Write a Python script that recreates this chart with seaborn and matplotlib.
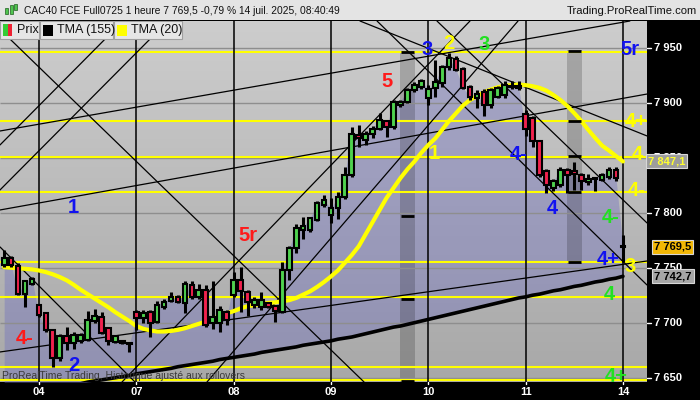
import numpy as np
import pandas as pd
import matplotlib
matplotlib.use('Agg')
import matplotlib.pyplot as plt
from matplotlib.patches import Rectangle
from matplotlib.colors import LinearSegmentedColormap
import seaborn as sns

sns.set_style('white')
plt.rcParams['font.family'] = ['Liberation Sans', 'DejaVu Sans']

# hourly candles, last bars of 03 july -> first bar of 14 july
opens = [7753, 7759, 7752, 7727, 7736,
         7716.5, 7709, 7694, 7668, 7688, 7682, 7684, 7685, 7702, 7705.5, 7695.5, 7683, 7683.5, 7682,
         7710.5, 7704.5, 7710.5, 7701.5, 7715, 7720.5, 7724, 7718, 7735, 7724, 7730, 7700, 7700, 7710.5,
         7726, 7739.5, 7728, 7716.5, 7715, 7718, 7716, 7710.5, 7748.5, 7768, 7785, 7785, 7794, 7807.5,
         7798.5, 7804.5, 7815, 7835, 7871, 7866.5, 7872.5, 7877, 7883.5, 7878.5, 7898.5, 7901.5, 7912, 7915,
         7905, 7913.5, 7918, 7933, 7940, 7931, 7915, 7905, 7910.5, 7898.5, 7906, 7907.5, 7916, 7916,
         7890, 7886.5, 7865.5, 7838, 7823, 7826, 7839.5, 7838, 7835, 7828, 7831, 7830.5, 7833, 7839.5,
         7770.5]
highs = [7766.5, 7761, 7755, 7739, 7742,
         7717.5, 7710, 7695, 7690, 7697, 7692.5, 7691, 7711, 7713, 7710, 7697, 7689, 7684, 7683,
         7712, 7712, 7712.5, 7720, 7722, 7728, 7726, 7738, 7738, 7736, 7735, 7738, 7716, 7712,
         7747, 7751.5, 7730, 7724, 7728.5, 7719, 7717, 7756, 7770, 7790, 7797, 7797, 7811, 7816.5,
         7813.5, 7819.5, 7842.5, 7878.5, 7880, 7875, 7879, 7891, 7885, 7903, 7903, 7913.5, 7919, 7922,
         7917, 7939, 7935, 7946, 7943, 7933, 7917, 7912, 7913, 7914, 7916, 7920, 7920, 7920,
         7894, 7888, 7867, 7840, 7831, 7842, 7841, 7846.5, 7837, 7836, 7833, 7836.5, 7842.5, 7842,
         7780]
lows = [7751.5, 7751, 7726, 7715, 7735,
        7706, 7692, 7660.5, 7666, 7676, 7677, 7682, 7684, 7700, 7690, 7680, 7682, 7681, 7673.5,
        7694, 7700, 7687.5, 7700, 7713, 7719, 7718, 7709, 7722, 7722, 7697, 7695, 7692, 7698.5,
        7724, 7710, 7707, 7714, 7712, 7714, 7701, 7709, 7739, 7763.5, 7777, 7783, 7793, 7806,
        7791, 7795, 7813, 7833, 7860.5, 7862, 7868, 7876, 7869.5, 7877, 7897, 7900, 7910, 7913,
        7898, 7906, 7915, 7930, 7929, 7913, 7903, 7896, 7888, 7896, 7905, 7905, 7913, 7912,
        7870, 7860, 7833, 7818.5, 7820, 7824, 7818.5, 7821.5, 7821.5, 7826, 7820, 7829, 7831, 7829,
        7756]
closes = [7759, 7753, 7727, 7738, 7740.5,
          7707.5, 7694, 7668, 7688, 7682, 7689.5, 7689, 7703, 7706.5, 7691, 7683.5, 7688, 7682, 7681,
          7704.5, 7709.5, 7700, 7716.5, 7719.5, 7724, 7719.5, 7736, 7724, 7730, 7698.5, 7706, 7712, 7703,
          7739.5, 7729, 7719, 7721, 7721, 7715, 7711, 7748.5, 7768, 7786.5, 7788, 7795.5, 7809, 7812,
          7804.5, 7815, 7835, 7872.5, 7868, 7872.5, 7877, 7885, 7878.5, 7901.5, 7901.5, 7912, 7916.5, 7920,
          7913, 7919.5, 7933, 7941, 7930.5, 7914, 7906, 7908, 7898.5, 7912, 7914, 7916.5, 7915, 7914,
          7877, 7865.5, 7835, 7826, 7829, 7839.5, 7835, 7835.5, 7829, 7831, 7831.5, 7835, 7839.5, 7832,
          7769.5]

tma20 = [7751, 7750.5, 7750, 7749.5, 7749, 7748, 7746.5, 7744.5, 7742, 7739,
         7735, 7730.5, 7726.5, 7722.5, 7718.5, 7714.5, 7710, 7706, 7702, 7697.5,
         7695, 7693.5, 7692.5, 7692.5, 7693, 7694, 7695.5, 7697.5, 7699.5, 7701.5,
         7704, 7706.5, 7709, 7711, 7713.5, 7715.5, 7716.5, 7717.5, 7718.5, 7719,
         7720, 7721, 7723, 7726, 7729, 7733, 7737.5, 7742.5, 7748, 7755,
         7762, 7770, 7781, 7792, 7803, 7814, 7823, 7832, 7840, 7847,
         7855, 7862, 7868, 7876, 7884, 7891, 7898, 7903, 7906.5, 7910,
         7912.5, 7914.5, 7916, 7916.5, 7917, 7916.5, 7915.5, 7914, 7911.5, 7907.5,
         7903, 7897.5, 7891, 7884, 7876, 7868.5, 7861.5, 7857, 7852, 7847.1]
tma155 = [7633, 7634, 7635, 7636.5, 7637.5, 7638.5, 7639.5, 7640.5, 7641.5, 7643,
          7644, 7645, 7646.5, 7647.5, 7648.5, 7649.5, 7650.5, 7651.5, 7652.5, 7654,
          7655, 7656, 7657, 7658, 7659, 7660.5, 7661.5, 7662.5, 7663.5, 7664.5,
          7665.5, 7667, 7668, 7669, 7670, 7671, 7672, 7673.5, 7674.5, 7675.5,
          7676.5, 7677.5, 7678.5, 7680, 7681, 7682, 7683, 7684, 7685.5, 7686.5,
          7687.5, 7689, 7690.5, 7692, 7693.5, 7695, 7696.5, 7697.5, 7699, 7700.5,
          7702, 7703.5, 7705, 7706.5, 7708, 7709.5, 7711, 7712.5, 7714, 7715.5,
          7717, 7718.5, 7720, 7721.5, 7723, 7724, 7725.5, 7726.5, 7728, 7729.5,
          7730.5, 7732, 7733.5, 7734.5, 7736, 7737.5, 7738.5, 7740, 7741, 7742.7]

day_labels = ['04', '07', '08', '09', '10', '11', '14']
day_start_bars = [5, 19, 33, 47, 61, 75, 89]
price_ticks = [7650, 7700, 7750, 7800, 7850, 7900, 7950]

# horizontal levels (yellow) drawn on the chart
yellow_levels = [7946.5, 7883.5, 7851.5, 7819, 7755.5, 7724, 7660, 7648]

# hand drawn trend lines (bar, price)
trend_start = [(-0.6, 7967.2), (-0.6, 7769.4), (-0.6, 7862.1), (-0.6, 7821.2),
               (-0.6, 7874.8), (-0.6, 7803.0), (-0.6, 7673.9), (16.95, 7646.6),
               (29.17, 7646.6), (53.63, 7974.8), (51.18, 7974.8), (62.25, 7974.8)]
trend_end = [(51.76, 7646.6), (18.82, 7646.6), (17.09, 7974.8), (23.56, 7974.8),
             (90.0, 7974.8), (92.46, 7908.4), (92.46, 7756.6), (67.0, 7974.8),
             (73.91, 7974.8), (92.46, 7734.8), (92.46, 7870.3), (92.46, 7791.2)]

# grey zones with their marks
zone_bars = [(56.95, 59.1), (80.95, 83.1)]
zone_prices = [(7646.6, 7947), (7754, 7948.5)]
zone_marks = [[7946.3, 7797.3, 7722, 7647.5], [7947.8, 7883.6, 7851.8, 7819.4, 7755.4]]

# wave count labels
RED, BLUE, YEL, GRN = '#ff1a1a', '#1212f0', '#ffff00', '#22e022'
wave_text = ['4-', '2', '1', '5r', '5', '3', '2', '3', '1', '4-', '4', '5r',
             '4+', '4', '4-', '4-', '4+', '3', '4', '4+']
wave_bar = [2.9, 10.0, 10.0, 35.0, 55.1, 60.8, 64.0, 69.0, 61.8, 74.0, 78.8, 90.0,
            90.9, 91.0, 91.0, 87.2, 86.9, 90.0, 87.0, 88.0]
wave_price = [7686.6, 7662, 7804.8, 7780, 7920.2, 7949, 7954, 7953, 7853.9, 7853, 7803.9, 7948.5,
              7883, 7853, 7821, 7796.6, 7758.4, 7752, 7725.7, 7652]
wave_color = [RED, BLUE, BLUE, RED, RED, BLUE, YEL, GRN, YEL, BLUE, BLUE, BLUE,
              YEL, YEL, YEL, GRN, BLUE, YEL, GRN, GRN]

last_price = 7769.5
last_tma155 = 7742.7
last_tma20 = 7847.1

df = pd.DataFrame({'open': opens, 'high': highs, 'low': lows, 'close': closes,
                   'tma20': tma20, 'tma155': tma155})
df['bar'] = np.arange(len(df))

W, H = 700, 400
fig = plt.figure(figsize=(7, 4), dpi=100, facecolor='black')
ax = fig.add_axes([0, 18 / H, 647 / W, 361 / H])
x_lo, x_hi = -0.6, 92.46
y_lo, y_hi = 7646.6, 7974.8

# background gradient
bg = LinearSegmentedColormap.from_list('bg', ['#a8a8a8', '#cdcdcd'])
ax.imshow(np.linspace(0, 1, 200).reshape(-1, 1), origin='lower', aspect='auto',
          extent=[x_lo, x_hi, y_lo, y_hi], cmap=bg, zorder=0)

# area between price and the long TMA
ax.fill_between(df['bar'], df['close'], df['tma155'], color='#6c6cc0', alpha=0.38, lw=0, zorder=1)

for (b0, b1), (p0, p1), marks in zip(zone_bars, zone_prices, zone_marks):
    ax.add_patch(Rectangle((b0, p0), b1 - b0, p1 - p0, facecolor='black', alpha=0.18, lw=0, zorder=1.5))
    ax.hlines(marks, b0 + 0.15, b1 - 0.15, color='black', lw=2, zorder=6)

ax.hlines(price_ticks, x_lo, x_hi, color='#8e8e8e', lw=1, zorder=2)
ax.hlines(yellow_levels, x_lo, x_hi, color='#ffff00', lw=1.5, zorder=2.5)

for (b0, p0), (b1, p1) in zip(trend_start, trend_end):
    ax.plot([b0, b1], [p0, p1], color='black', lw=0.9, zorder=3)

ax.vlines(day_start_bars, y_lo, y_hi, color='black', lw=1.1, zorder=3)

sns.lineplot(data=df, x='bar', y='tma155', ax=ax, color='black', lw=2.6, zorder=4)
sns.lineplot(data=df, x='bar', y='tma20', ax=ax, color='#ffff00', lw=3, zorder=4.5)

# candles
ax.vlines(df['bar'], df['low'], df['high'], color='black', lw=2.2, zorder=5)
body_col = np.where(df['close'] >= df['open'], '#4fd24f', '#f0224e')
body_h = np.maximum((df['close'] - df['open']).abs(), 0.8)
ax.bar(df['bar'], body_h, bottom=np.minimum(df['open'], df['close']), width=0.68,
       color=body_col, edgecolor='black', linewidth=1.5, zorder=5.5)

for t, b, p, c in zip(wave_text, wave_bar, wave_price, wave_color):
    ax.text(b, p, t, color=c, fontsize=14.5, fontweight='bold', ha='center', va='center',
            zorder=8, clip_on=False)

ax.text(0.003, 0.017, 'ProRealTime Trading, Historique ajusté aux rollovers', transform=ax.transAxes,
        fontsize=7.5, color='#3a3a3a', va='center', ha='left', zorder=8)

ax.set_xlim(x_lo, x_hi)
ax.set_ylim(y_lo, y_hi)
ax.axis('off')

# right price scale
ytr = ax.get_yaxis_transform()
for p in price_ticks:
    ax.text(654 / 647, p, f'{p:,}'.replace(',', ' '), transform=ytr, color='white', fontsize=8,
            fontweight='bold', va='center', ha='left', clip_on=False, zorder=9)
    ax.plot([1.0, 1.006], [p, p], transform=ytr, color='white', lw=1, clip_on=False, zorder=9)

def value_box(price, text, fc, tc, x0):
    ax.text(x0, price, text, transform=ytr, color=tc, fontsize=8, fontweight='bold',
            va='center', ha='left', clip_on=False, zorder=10,
            bbox=dict(boxstyle='square,pad=0.18', fc=fc, ec='#d8d8d8', lw=0.8))

value_box(last_tma20, '7 847,1', '#9c9c9c', '#ffff30', 648 / 647)
value_box(last_price, '7 769,5', '#f2b705', 'black', 654 / 647)
value_box(last_tma155, '7 742,7', '#a6a6a6', 'black', 654 / 647)

# day labels
xtr = ax.get_xaxis_transform()
for b, lab in zip(day_start_bars, day_labels):
    ax.text(b, -0.029, lab, transform=xtr, color='white', fontsize=8, fontweight='bold',
            ha='center', va='center', clip_on=False)
    ax.plot([b, b], [0, -0.006], transform=xtr, color='white', lw=1, clip_on=False)

# title bar
fig.patches.append(Rectangle((0, 380 / H), 1, 20 / H, transform=fig.transFigure,
                             fc='#e4e4e4', ec='none', zorder=1))
for i, (hh, yy) in enumerate([(6, 8), (9, 5), (6, 4)]):
    fig.patches.append(Rectangle(((5 + 4.5 * i) / W, 1 - (yy + hh) / H), 3 / W, hh / H,
                                 transform=fig.transFigure, fc='#4fc44f', ec='#206020', lw=0.5, zorder=2))
fig.text(24 / W, 1 - 10.5 / H, 'CAC40 FCE Full0725 1 heure 7 769,5 -0,79 % 14 juil. 2025, 08:40:49',
         fontsize=7.4, color='#111111', va='center', ha='left')
fig.text(697 / W, 1 - 10.5 / H, 'Trading.ProRealTime.com', fontsize=8.1, color='#111111',
         va='center', ha='right')

# legend row
legend_boxes = [(0, 39, 'Prix'), (39.5, 113, 'TMA (155)'), (113.5, 182, 'TMA (20)')]
for x0, x1, lab in legend_boxes:
    fig.patches.append(Rectangle((x0 / W, 1 - 39.3 / H), (x1 - x0) / W, 18.6 / H,
                                 transform=fig.transFigure, fc='#e6e6e6', ec='#a0a0a0', lw=0.8, zorder=5))
    fig.text((x0 + 17.5) / W, 1 - 30 / H, lab, fontsize=9, color='#111111', va='center', ha='left', zorder=7)
fig.patches.append(Rectangle((3 / W, 1 - 36 / H), 4.5 / W, 12 / H, transform=fig.transFigure,
                             fc='#33cc33', ec='none', zorder=6))
fig.patches.append(Rectangle((7.5 / W, 1 - 36 / H), 4.5 / W, 12 / H, transform=fig.transFigure,
                             fc='#ee2233', ec='none', zorder=6))
fig.patches.append(Rectangle((43 / W, 1 - 35.5 / H), 9.5 / W, 11 / H, transform=fig.transFigure,
                             fc='black', ec='none', zorder=6))
fig.patches.append(Rectangle((117 / W, 1 - 35.5 / H), 10 / W, 11 / H, transform=fig.transFigure,
                             fc='#ffff00', ec='none', zorder=6))

fig.savefig('out.png', dpi=100, facecolor=fig.get_facecolor())
